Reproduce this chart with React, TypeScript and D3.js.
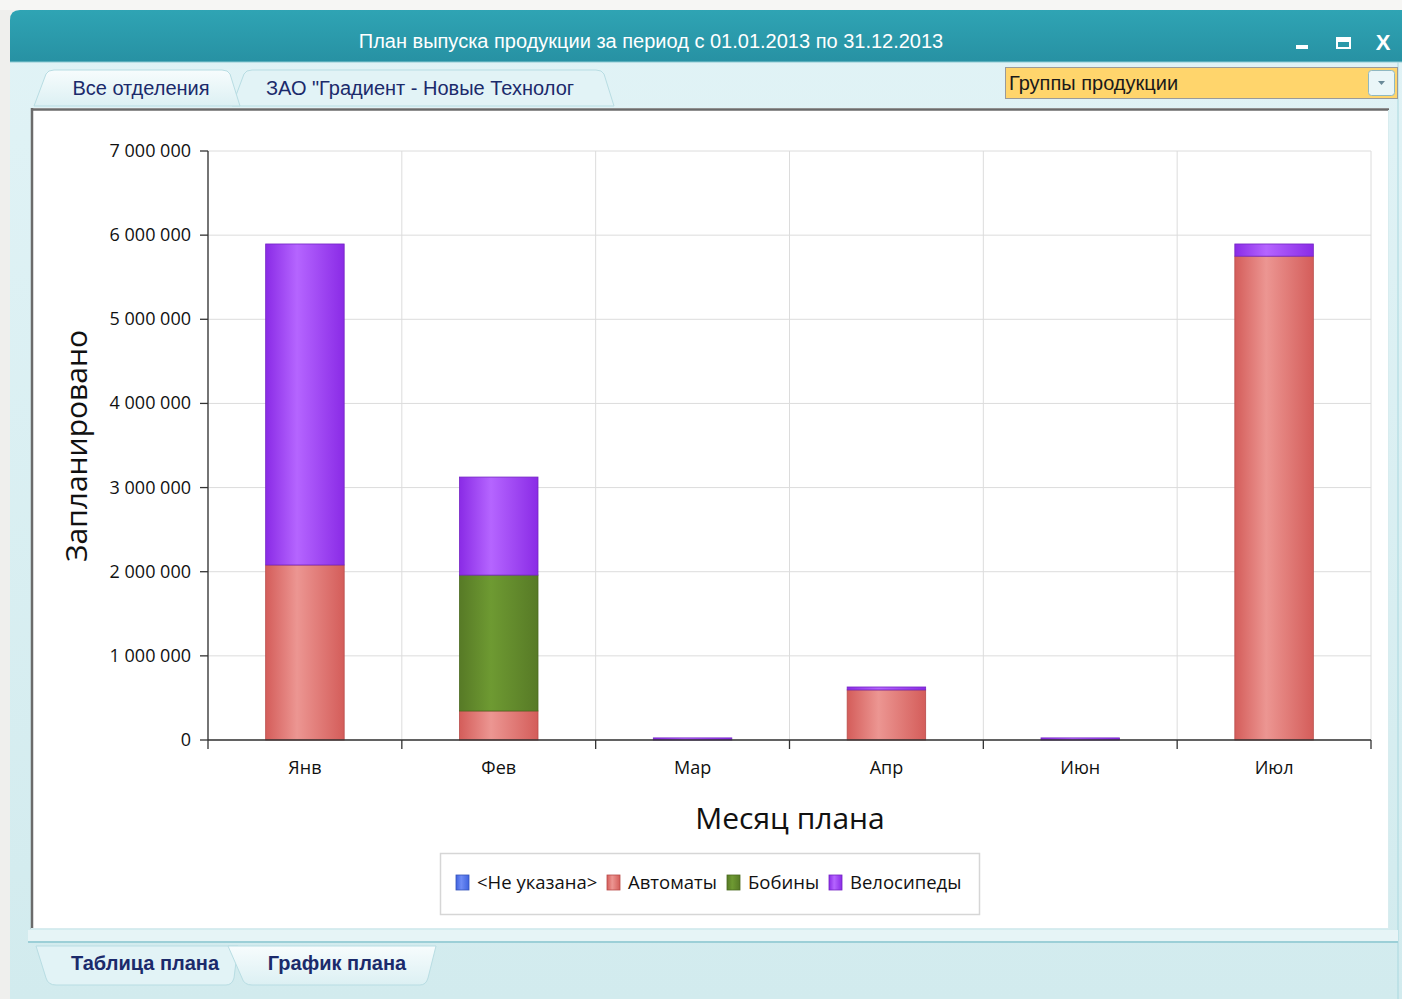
import React from "react";
import * as d3 from "d3";

const months = ["Янв", "Фев", "Мар", "Апр", "Июн", "Июл"];
const seriesNames = ["<Не указана>", "Автоматы", "Бобины", "Велосипеды"];
const neUkazana = [0, 0, 0, 0, 0, 0];
const avtomaty = [2080000, 345000, 0, 595000, 0, 5750000];
const bobiny = [0, 1615000, 0, 0, 0, 0];
const velosipedy = [3815000, 1165000, 25000, 35000, 25000, 145000];
const yTicks = [0, 1000000, 2000000, 3000000, 4000000, 5000000, 6000000, 7000000];

const colors: Record<string, { edge: string; mid: string; stroke: string }> = {
  "<Не указана>": { edge: "#3f63df", mid: "#6f8cf5", stroke: "#3553b8" },
  "Автоматы": { edge: "#d45d5a", mid: "#ec9692", stroke: "#b84c4a" },
  "Бобины": { edge: "#577a26", mid: "#6e9a32", stroke: "#4a6a20" },
  "Велосипеды": { edge: "#8a2be6", mid: "#b565ff", stroke: "#7424c4" },
};

const fmt = (v: number) => d3.format(",")(v).replace(/,/g, " ");

export default function App() {
  const W = 1402;
  const H = 999;
  const plot = { left: 208, right: 1371, top: 151, bottom: 740 };

  const table = months.map((m, i) => ({
    month: m,
    "<Не указана>": neUkazana[i],
    "Автоматы": avtomaty[i],
    "Бобины": bobiny[i],
    "Велосипеды": velosipedy[i],
  }));
  const stacked = d3.stack<any>().keys(seriesNames)(table);

  const x = d3.scaleBand<string>().domain(months).range([plot.left, plot.right]).padding(0);
  const y = d3.scaleLinear().domain([0, 7000000]).range([plot.bottom, plot.top]);
  const barW = x.bandwidth() * 0.405;

  const font = "'Open Sans', 'DejaVu Sans', sans-serif";
  const narrow = "'Liberation Sans Narrow', 'Liberation Sans', Arial, sans-serif";
  const boundaries = months.map((m) => x(m) as number).concat([plot.right]);

  const legendItems = seriesNames;
  const legendX = [456, 607, 727, 829];

  return (
    <svg width={W} height={H} style={{ position: "absolute", left: 0, top: 0 }} fontFamily={font}>
      <defs>
        {seriesNames.map((s, i) => (
          <linearGradient key={s} id={`g${i}`} x1="0" x2="1" y1="0" y2="0">
            <stop offset="0" stopColor={colors[s].edge} />
            <stop offset="0.4" stopColor={colors[s].mid} />
            <stop offset="1" stopColor={colors[s].edge} />
          </linearGradient>
        ))}
        <linearGradient id="titleG" x1="0" x2="0" y1="0" y2="1">
          <stop offset="0" stopColor="#2fa4b4" />
          <stop offset="1" stopColor="#2791a3" />
        </linearGradient>
        <linearGradient id="bodyG" x1="0" x2="0" y1="0" y2="1">
          <stop offset="0" stopColor="#e1f3f6" />
          <stop offset="1" stopColor="#d2ebee" />
        </linearGradient>
        <linearGradient id="tabG" x1="0" x2="0" y1="0" y2="1">
          <stop offset="0" stopColor="#f7fcfd" />
          <stop offset="1" stopColor="#dcf0f3" />
        </linearGradient>
      </defs>

      {/* page background */}
      <rect x={0} y={0} width={W} height={H} fill="#efefed" />
      <rect x={0} y={0} width={W} height={10} fill="#f6f6f4" />

      {/* window */}
      <path d={`M10,20 Q10,10 20,10 L${W},10 L${W},${H} L10,${H} Z`} fill="url(#bodyG)" />
      <path d={`M10,20 Q10,10 20,10 L${W},10 L${W},62 L10,62 Z`} fill="url(#titleG)" />
      <line x1={10} x2={W} y1={62} y2={62} stroke="#8fcad3" />
      <line x1={1398} x2={1398} y1={62} y2={H} stroke="#a9d8df" />
      <text x={651} y={48} textAnchor="middle" fill="#ffffff" fontSize={20} fontFamily={narrow}>
        План выпуска продукции за период с 01.01.2013 по 31.12.2013
      </text>
      <rect x={1296} y={45} width={12} height={4} fill="#ffffff" />
      <rect x={1336} y={37} width={15} height={12} fill="#ffffff" />
      <rect x={1338} y={42} width={11} height={5} fill="#2a98a9" />
      <text x={1383} y={50} textAnchor="middle" fill="#ffffff" fontSize={22} fontWeight="bold" fontFamily="'Liberation Sans', Arial">X</text>

      {/* top tabs */}
      <path d="M232,106 L244,74 Q246,70 252,70 L596,70 Q602,70 604,74 L614,106 Z" fill="#e2f3f6" stroke="#b8dde3" />
      <path d="M34,106 L46,74 Q48,70 54,70 L222,70 Q228,70 230,74 L240,106 Z" fill="url(#tabG)" stroke="#b8dde3" />
      <text x={141} y={95} textAnchor="middle" fill="#1b2a6b" fontSize={20} fontFamily={narrow}>Все отделения</text>
      <text x={420} y={95} textAnchor="middle" fill="#1b2a6b" fontSize={20} fontFamily={narrow}>ЗАО "Градиент - Новые Технолог</text>

      {/* combobox */}
      <rect x={1005.5} y={67.5} width={392} height={31} fill="#ffd56c" stroke="#9a9a9a" />
      <rect x={1368.5} y={70.5} width={26} height={25} rx={3} fill="#eaf6f8" stroke="#8fb8c2" />
      <path d="M1378,81 L1385,81 L1381.5,85 Z" fill="#6a8a99" />
      <text x={1009} y={90} fill="#1a1a1a" fontSize={20} fontFamily={narrow}>Группы продукции</text>

      {/* chart panel */}
      <rect x={31} y={108} width={1358} height={821} fill="#ffffff" />
      <line x1={32} x2={32} y1={108} y2={929} stroke="#6b6b6b" strokeWidth={2.5} />
      <line x1={31} x2={1389} y1={109.5} y2={109.5} stroke="#6b6b6b" strokeWidth={2.5} />
      <line x1={1388.5} x2={1388.5} y1={110} y2={929} stroke="#d8ecef" />
      <line x1={31} x2={1389} y1={928.5} y2={928.5} stroke="#d8ecef" />
      <rect x={28} y={930} width={1370} height={11} fill="#e6f4f6" />
      <line x1={28} x2={1398} y1={942} y2={942} stroke="#9ccfd7" strokeWidth={2} />

      {/* grid */}
      {yTicks.map((t) => (
        <line key={`h${t}`} x1={plot.left} x2={plot.right} y1={y(t)} y2={y(t)} stroke="#dcdcdc" />
      ))}
      {boundaries.map((b, i) => (
        <line key={`v${i}`} x1={b} x2={b} y1={plot.top} y2={plot.bottom} stroke="#dcdcdc" />
      ))}

      {/* bars */}
      {stacked.map((layer, si) => (
        <g key={layer.key}>
          {layer.map((d, i) => {
            const h = y(d[0]) - y(d[1]);
            if (h <= 0) return null;
            const bx = (x(months[i]) as number) + (x.bandwidth() - barW) / 2;
            return (
              <rect
                key={i}
                x={bx}
                y={y(d[1])}
                width={barW}
                height={Math.max(h, 2)}
                fill={`url(#g${si})`}
                stroke={colors[layer.key].stroke}
                strokeWidth={0.8}
              />
            );
          })}
        </g>
      ))}

      {/* axes */}
      <line x1={plot.left} x2={plot.left} y1={plot.top} y2={plot.bottom} stroke="#333" strokeWidth={1.3} />
      <line x1={plot.left} x2={plot.right} y1={plot.bottom} y2={plot.bottom} stroke="#333" strokeWidth={1.3} />
      {yTicks.map((t) => (
        <g key={`yt${t}`}>
          <line x1={plot.left - 8} x2={plot.left} y1={y(t)} y2={y(t)} stroke="#333" strokeWidth={1.3} />
          <text x={191} y={y(t) + 6} textAnchor="end" fontSize={18} fill="#111">{fmt(t)}</text>
        </g>
      ))}
      {boundaries.map((b, i) => (
        <line key={`xt${i}`} x1={b} x2={b} y1={plot.bottom} y2={plot.bottom + 9} stroke="#333" strokeWidth={1.3} />
      ))}
      {months.map((m) => (
        <text key={m} x={(x(m) as number) + x.bandwidth() / 2} y={774} textAnchor="middle" fontSize={18} fill="#111">{m}</text>
      ))}
      <text x={790} y={829} textAnchor="middle" fontSize={30} fill="#111">Месяц плана</text>
      <text transform="translate(87,446) rotate(-90)" textAnchor="middle" fontSize={30} fill="#111">Запланировано</text>

      {/* legend */}
      <rect x={440.5} y={853.5} width={539} height={61} fill="#ffffff" stroke="#d6d6d6" strokeWidth={1.5} />
      {legendItems.map((s, i) => (
        <g key={s}>
          <rect x={legendX[i]} y={875} width={13} height={15} fill={`url(#g${i})`} stroke={colors[s].stroke} strokeWidth={0.8} />
          <text x={legendX[i] + 21} y={889} fontSize={18.5} fill="#111">{s}</text>
        </g>
      ))}

      {/* bottom tabs */}
      <path d="M36,946 L46,978 Q48,985 56,985 L226,985 Q232,985 234,978 L238,946 Z" fill="#e2f3f6" stroke="#b8dde3" />
      <path d="M228,946 L242,978 Q244,985 252,985 L420,985 Q426,985 428,978 L436,946 Z" fill="url(#tabG)" stroke="#b8dde3" />
      <text x={145} y={970} textAnchor="middle" fill="#1b2a6b" fontSize={20} fontWeight="bold" fontFamily={narrow}>Таблица плана</text>
      <text x={337} y={970} textAnchor="middle" fill="#1b2a6b" fontSize={20} fontWeight="bold" fontFamily={narrow}>График плана</text>
    </svg>
  );
}
